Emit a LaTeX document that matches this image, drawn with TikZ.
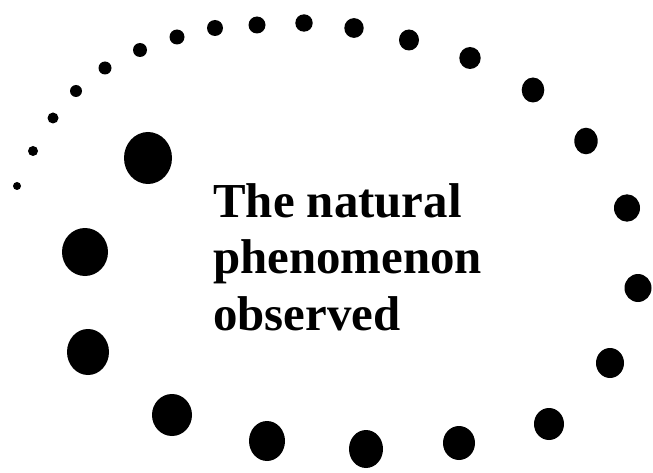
\documentclass[tikz,border=0pt]{standalone}
\usepackage{fontspec}
\setmainfont{Liberation Serif}
\usetikzlibrary{positioning}

\begin{document}
\begin{tikzpicture}[
  x=0.02cm, y=-0.02cm,
  spot/.style={fill=black},
  caption/.style={
    font=\bfseries\fontsize{27.8}{32.3}\selectfont,
    align=left,
    inner sep=0pt,
    anchor=north west,
  },
]

  \useasboundingbox (0,0) rectangle (653,473);

  % spiral of dots, small at the outer end, growing inward
  \foreach \px/\py/\rx/\ry in {
      17/186/4/4, 33/151/5/5, 53/118/5.5/5.5, 76/91/6/6,
      105/68/6.5/6.5, 140/50/7/7, 177/37/7.5/7.5, 215/28/8/8,
      257/25/8.5/8.5, 304/23/8.7/8.7, 354/28/9.7/9.9, 409/40/10/10.5,
      470/58/10.7/11, 533/90/11.3/12.5, 586/141/11.7/13.3, 627/208/13/13.7,
      638/288/13.5/14, 610/363/14/15, 549/424/15/16, 459/443/16/17,
      366/449/17/19, 267/441/18/20, 172/415/20/21, 88/352/21/23,
      85/252/23/24, 148/158/24/26}
    \fill[spot] (\px,\py) ellipse [x radius=\rx, y radius=\ry];

  \node[caption] (label) at (213,183)
    {The natural\\phenomenon\\observed};

\end{tikzpicture}
\end{document}
